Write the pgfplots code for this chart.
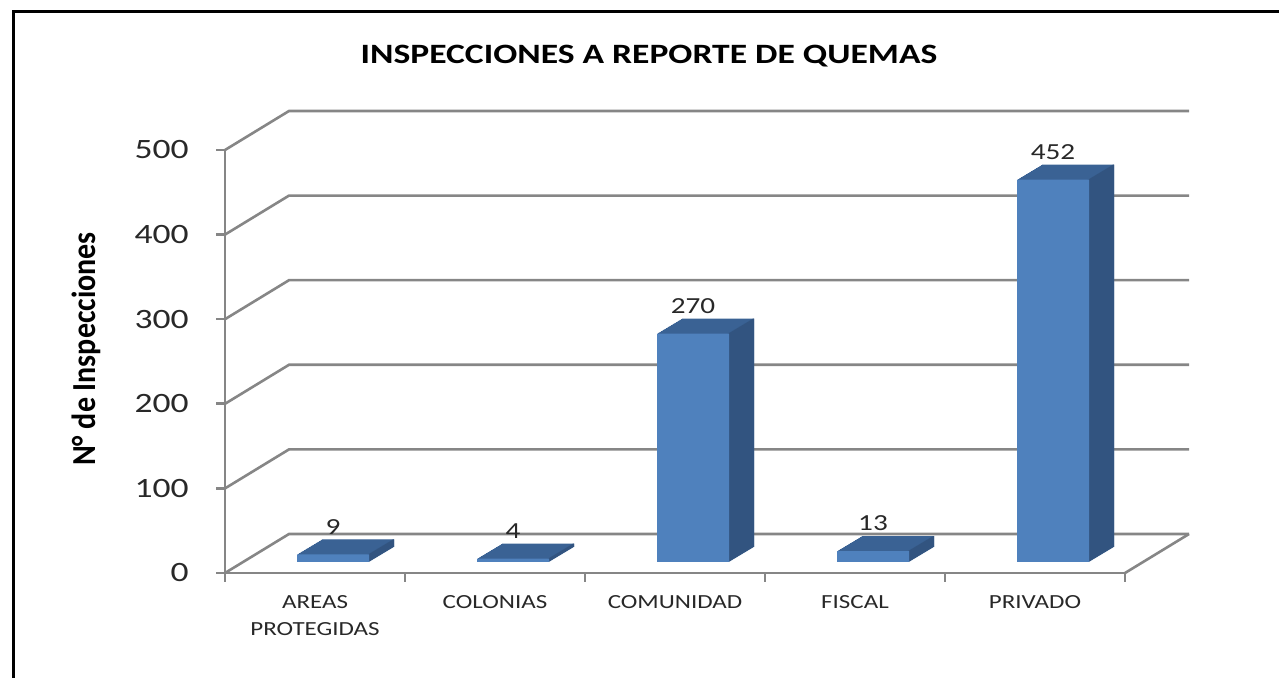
\documentclass[border=0pt]{standalone}
\usepackage{pgfplots}
\pgfplotsset{compat=1.18}
\usepackage{pgfplotstable}
\usepackage{fontspec}
\setmainfont{Carlito}
\definecolor{barfront}{RGB}{79,129,189}
\definecolor{bartop}{RGB}{58,98,148}
\definecolor{barside}{RGB}{50,84,128}
\definecolor{wallgray}{RGB}{134,134,134}
\definecolor{labtext}{RGB}{40,40,40}

\pgfplotstableread{
cat value
0.5 9
1.5 4
2.5 270
3.5 13
4.5 452
}\datatable

\begin{document}
\begin{tikzpicture}
\path[use as bounding box] (0pt,0pt) rectangle (1279pt,677pt);
\draw[line width=3pt] (13.5pt,-5pt) -- (13.5pt,665.5pt) -- (1290pt,665.5pt);
\begin{axis}[
  at={(225pt,104pt)}, anchor=origin,
  x=180pt, y=0.846pt,
  xmin=0, xmax=5, ymin=0, ymax=500,
  clip=false,
  axis x line*=bottom, axis y line*=left,
  axis line style={wallgray, line width=2.6pt},
  tick style={wallgray, line width=2.6pt},
  tick align=outside, major tick length=9pt,
  xtick={0,...,5}, x tick label as interval,
  xticklabels={AREAS\\PROTEGIDAS, COLONIAS, COMUNIDAD, FISCAL, PRIVADO},
  xticklabel style={align=center, font=\fontsize{20}{27}\selectfont, xscale=1.25, text=labtext, yshift=-10pt},
  ytick={0,100,...,500},
  yticklabel style={font=\fontsize{28}{28}\selectfont, xscale=1.27, text=labtext, xshift=-18pt},
  /pgf/number format/assume math mode=true,
]
% back wall, left wall and floor lines
\pgfplotsinvokeforeach{0,100,200,300,400,500}{
  \draw[wallgray, line width=2.6pt] (axis cs:0,#1) -- ([shift={(64pt,39pt)}]axis cs:0,#1) -- ([shift={(64pt,39pt)}]axis cs:5,#1);
}
\draw[wallgray, line width=2.6pt] (axis cs:5,0) -- ([shift={(64pt,39pt)}]axis cs:5,0);
% bar extrusion (top face colour)
\pgfplotsinvokeforeach{1,...,25}{
  \addplot[ybar, bar width=72pt, bar shift=0pt, fill=bartop, draw=none,
    xshift={18pt+#1*1pt}, yshift={11pt+#1*0.6pt}] table[x=cat,y=value] {\datatable};
}
% side faces
\pgfplotsinvokeforeach{0,...,25}{
  \addplot[ybar, bar width=1.5pt, bar shift=35.25pt, fill=barside, draw=none,
    xshift={18pt+#1*1pt}, yshift={11pt+#1*0.6pt}] table[x=cat,y=value] {\datatable};
}
% front faces with value labels
\addplot[ybar, bar width=72pt, bar shift=0pt, fill=barfront, draw=none,
  xshift=18pt, yshift=11pt,
  nodes near coords,
  every node near coord/.append style={font=\fontsize{23}{23}\selectfont, xscale=1.27, inner sep=0pt, anchor=south, yshift=20pt, text=labtext}]
  table[x=cat,y=value] {\datatable};
\end{axis}
\node[font=\fontsize{28}{28}\selectfont\bfseries, xscale=1.27] at (649pt,621pt) {INSPECCIONES A REPORTE DE QUEMAS};
\node[font=\fontsize{30}{30}\selectfont\bfseries, rotate=90, yscale=1.12] at (86pt,328pt) {N° de Inspecciones};
\end{tikzpicture}
\end{document}
